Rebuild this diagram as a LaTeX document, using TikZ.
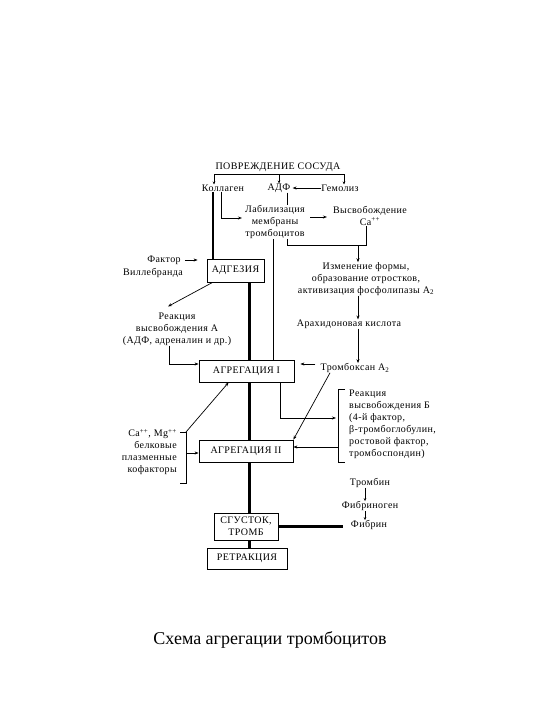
\documentclass[tikz,border=0pt]{standalone}
\usepackage{fontspec}
\setmainfont{Liberation Serif}
\newfontfamily\diagfont[LetterSpace=4]{Liberation Serif}
\usetikzlibrary{arrows.meta}
\begin{document}
\begin{tikzpicture}[x=1pt,y=-1pt,
  txt/.style={inner sep=0pt, font=\diagfont\fontsize{10}{12}\selectfont, align=center},
  box/.style={draw, line width=0.8pt, inner sep=0pt, font=\diagfont\fontsize{10}{12}\selectfont, align=center},
  ln/.style={line width=0.7pt},
  arr/.style={ln, -{Stealth[length=4pt,width=3pt]}},
  sarr/.style={ln, -{Stealth[length=3pt,width=2.5pt]}},
  thk/.style={line width=2.6pt},
]
\useasboundingbox (0,0) rectangle (540,720);

% text nodes
\node[txt] (pov) at (278,167) {ПОВРЕЖДЕНИЕ СОСУДА};
\node[txt] (kol) at (223,188) {Коллаген};
\node[txt] (adf) at (279,188) {АДФ};
\node[txt] (gem) at (340,188) {Гемолиз};
\node[txt] (lab) at (275,222) {Лабилизация\\мембраны\\тромбоцитов};
\node[txt] (ca) at (370,216) {Высвобождение\\Ca\textsuperscript{++}};
\node[txt] (izm) at (366,279) {Изменение формы,\\образование отростков,\\активизация фосфолипазы A\textsubscript{2}};
\node[txt] (arah) at (349,324) {Арахидоновая кислота};
\node[txt] (trx) at (355,368) {Тромбоксан A\textsubscript{2}};
\node[txt] (fv1) at (164,260) {Фактор};
\node[txt] (fv2) at (153,273) {Виллебранда};
\node[txt] (reA) at (177,329) {Реакция\\высвобождения А\\(АДФ, адреналин и др.)};
\node[txt, align=left, anchor=west] (reB) at (349,424) {Реакция\\высвобождения Б\\(4-й фактор,\\β-тромбоглобулин,\\ростовой фактор,\\тромбоспондин)};
\node[txt, align=right, anchor=east] (caMg) at (177,452) {Ca\textsuperscript{++}, Mg\textsuperscript{++}\\белковые\\плазменные\\кофакторы};
\node[txt] (trombin) at (370,483) {Тромбин};
\node[txt] (fibrinogen) at (370,506) {Фибриноген};
\node[txt] (fibrin) at (369,525) {Фибрин};

% boxes
\node[box, minimum width=57pt, minimum height=23pt] (adg) at (235.5,270.5) {АДГЕЗИЯ};
\node[box, minimum width=95pt, minimum height=22pt] (agr1) at (246.5,371) {АГРЕГАЦИЯ I};
\node[box, minimum width=94pt, minimum height=22pt] (agr2) at (246,451) {АГРЕГАЦИЯ II};
\node[box, minimum width=64pt, minimum height=27pt] (sgu) at (246,526.5) {СГУСТОК,\\ТРОМБ};
\node[box, minimum width=80pt, minimum height=21pt] (ret) at (247,558.5) {РЕТРАКЦИЯ};

\node[inner sep=0pt, font=\fontsize{18}{21}\selectfont] (title) at (270,640) {Схема агрегации тромбоцитов};

% bracket under ПОВРЕЖДЕНИЕ СОСУДА
\coordinate (brL) at (214,174);
\coordinate (brM) at (279,174);
\coordinate (brR) at (344,174);
\draw[ln] (brL) -- (brR);
\draw[sarr] (brL) -- (brL |- kol.north);
\draw[sarr] (brM) -- (brM |- adf.north);
\draw[sarr] (brR) -- (brR |- gem.north);

\draw[arr, shorten >=2pt] (gem.west) -- (adf.east);
\draw[ln] ([xshift=8pt]adf.south) -- ([xshift=8pt]adf.south |- lab.north);
\draw[arr] ([xshift=-2pt]kol.south) |- ([xshift=-3pt,yshift=4pt]lab.west);
\draw[arr, shorten <=5pt, shorten >=6pt] ([yshift=5pt]lab.east) -- ([yshift=5pt]lab.east -| ca.west);

% loop below Лабилизация / Высвобождение
\coordinate (loopL) at (287,245);
\coordinate (loopR) at (366,245);
\coordinate (izmIn) at (358,245);
\draw[ln] ([xshift=12pt]lab.south) -- (loopL) -- (loopR) -- (loopR |- ca.south);
\draw[arr] (izmIn) -- (izmIn |- izm.north);
\draw[arr] (izmIn |- izm.south) -- (izmIn |- arah.north);
\draw[arr] (izmIn |- arah.south) -- (izmIn |- trx.north);

\draw[ln] ([xshift=-2pt]lab.south) -- ([xshift=-2pt]lab.south |- agr1.north);

% thick lines
\draw[thk] ([xshift=-10pt]kol.south) -- ([xshift=-10pt]kol.south |- adg.north);
\coordinate (spine) at (249.5,0);
\draw[thk] (spine |- adg.south) -- (spine |- agr1.north);
\draw[thk] (spine |- agr1.south) -- (spine |- agr2.north);
\draw[thk] (spine |- agr2.south) -- (spine |- sgu.north);
\draw[thk] (spine |- sgu.south) -- (spine |- ret.north);
\draw[thk] (sgu.east) -- ([xshift=-8pt]sgu.east -| fibrin.west);

% left side
\draw[arr] ([xshift=4pt]fv1.east) -- ([xshift=-9pt]fv1.east -| adg.west);
\draw[arr] ([xshift=6pt]adg.south west) -- ([xshift=-9pt,yshift=6pt]reA.north);
\draw[arr] ([xshift=-8pt]reA.south) |- ([yshift=7pt]agr1.west);

% Тромбоксан
\draw[arr, shorten >=6pt] ([xshift=-5pt,yshift=4pt]trx.west) -- ([yshift=4pt]trx.west -| agr1.east);
\draw[arr] ([xshift=-25pt]trx.south) -- (agr2.north east);

% right bracket (Реакция Б)
\coordinate (rbT) at (338,389);
\coordinate (rbB) at (338,462);
\coordinate (rbIn) at (338,418);
\coordinate (rbOut) at (338,447);
\draw[ln] ([xshift=7pt]rbT) -- (rbT) -- (rbB) -- ([xshift=7pt]rbB);
\draw[arr, shorten >=2pt] ([xshift=-14pt]agr1.south east) |- (rbIn);
\draw[arr] (rbOut) -- (rbOut -| agr2.east);

% left bracket (cofactors)
\coordinate (lbT) at (186,432);
\coordinate (lbB) at (186,483);
\coordinate (lbOut) at (186,453);
\draw[ln] ([xshift=-6pt]lbT) -- (lbT) -- (lbB) -- ([xshift=-6pt]lbB);
\draw[arr] (lbOut) -- (lbOut -| agr2.west);
\draw[arr] (lbT) -- ([xshift=30pt]agr1.south west);

% fibrin chain
\draw[sarr] ([xshift=-5pt]trombin.south) -- ([xshift=-5pt]trombin.south |- fibrinogen.north);
\draw[sarr] ([xshift=-5pt]fibrinogen.south) -- ([xshift=-5pt]fibrinogen.south |- fibrin.north);
\end{tikzpicture}
\end{document}
